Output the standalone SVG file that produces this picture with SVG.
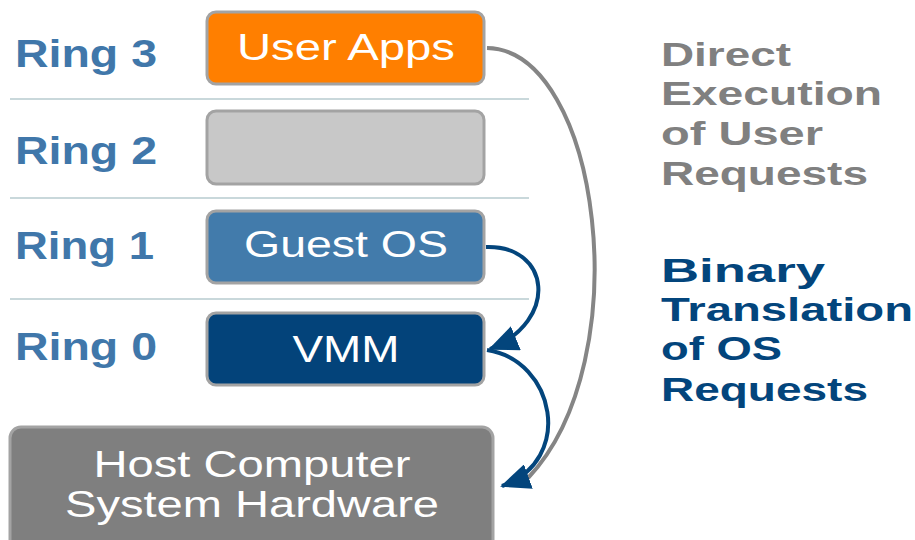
<svg xmlns="http://www.w3.org/2000/svg" width="915" height="540" viewBox="0 0 915 540">
<style>
.ring{font-family:"Liberation Sans",Arial,sans-serif;font-weight:bold;font-size:38px;fill:#4077AA}
.box{stroke:#A3A3A3;stroke-width:3}
.bt{font-family:"Liberation Sans",Arial,sans-serif;font-size:37px;fill:#FFFFFF;text-anchor:middle}
.sep{stroke:#C9D8DB;stroke-width:2}
.rg{font-family:"Liberation Sans",Arial,sans-serif;font-weight:bold;font-size:34px;fill:#808080}
.rb{font-family:"Liberation Sans",Arial,sans-serif;font-weight:bold;font-size:34px;fill:#03457C}
.conn{fill:none;stroke-width:4}
</style>
<defs>
<marker id="ah" markerUnits="userSpaceOnUse" viewBox="0 0 30 26" refX="28" refY="13" markerWidth="30" markerHeight="26" orient="auto">
<path d="M0 0 L30 13 L0 26 Z" fill="#03457C"/>
</marker>
</defs>
<rect width="915" height="540" fill="#FFFFFF"/>
<g id="separators">
<line class="sep" x1="10" y1="99" x2="529" y2="99"/>
<line class="sep" x1="10" y1="198" x2="529" y2="198"/>
<line class="sep" x1="10" y1="299" x2="529" y2="299"/>
</g>
<g id="ring-labels">
<text class="ring" x="15" y="67" textLength="142" lengthAdjust="spacingAndGlyphs">Ring 3</text>
<text class="ring" x="15" y="164" textLength="142" lengthAdjust="spacingAndGlyphs">Ring 2</text>
<text class="ring" x="15" y="259" textLength="139" lengthAdjust="spacingAndGlyphs">Ring 1</text>
<text class="ring" x="15" y="360" textLength="142" lengthAdjust="spacingAndGlyphs">Ring 0</text>
</g>
<g id="user-apps">
<rect class="box" x="207" y="12" width="277" height="72" rx="9" fill="#FF7F00"/>
<text class="bt" x="346" y="60" textLength="218" lengthAdjust="spacingAndGlyphs">User Apps</text>
</g>
<g id="ring2-box">
<rect class="box" x="207" y="111" width="277" height="73" rx="9" fill="#C8C8C8"/>
</g>
<g id="guest-os">
<rect class="box" x="207" y="211" width="277" height="72" rx="9" fill="#427BAB"/>
<text class="bt" x="346" y="257" textLength="204" lengthAdjust="spacingAndGlyphs">Guest OS</text>
</g>
<g id="vmm">
<rect class="box" x="207" y="313" width="277" height="72" rx="9" fill="#03437A"/>
<text class="bt" x="346" y="362" textLength="107" lengthAdjust="spacingAndGlyphs">VMM</text>
</g>
<g id="host">
<rect class="box" x="10" y="427" width="483" height="125" rx="11" fill="#7F7F7F"/>
<text class="bt" x="252" y="477" font-size="35" textLength="317" lengthAdjust="spacingAndGlyphs">Host Computer</text>
<text class="bt" x="252" y="517" font-size="35" textLength="374" lengthAdjust="spacingAndGlyphs">System Hardware</text>
</g>
<g id="connectors">
<path class="conn" stroke="#858585" d="M487 48 C600 50 640 360 528 478"/>
<path class="conn" stroke="#03457C" d="M486 247 C550 245 560 320 490 349" marker-end="url(#ah)"/>
<path class="conn" stroke="#03457C" d="M487 350 C555 360 575 460 502 486" marker-end="url(#ah)"/>
</g>
<g id="direct-label">
<text class="rg" x="661" y="66" textLength="130" lengthAdjust="spacingAndGlyphs">Direct</text>
<text class="rg" x="661" y="105" textLength="221" lengthAdjust="spacingAndGlyphs">Execution</text>
<text class="rg" x="661" y="145" textLength="162" lengthAdjust="spacingAndGlyphs">of User</text>
<text class="rg" x="661" y="185" textLength="207" lengthAdjust="spacingAndGlyphs">Requests</text>
</g>
<g id="binary-label">
<text class="rb" x="661" y="282" textLength="164" lengthAdjust="spacingAndGlyphs">Binary</text>
<text class="rb" x="661" y="321" textLength="252" lengthAdjust="spacingAndGlyphs">Translation</text>
<text class="rb" x="661" y="360" textLength="121" lengthAdjust="spacingAndGlyphs">of OS</text>
<text class="rb" x="661" y="401" textLength="207" lengthAdjust="spacingAndGlyphs">Requests</text>
</g>
</svg>
